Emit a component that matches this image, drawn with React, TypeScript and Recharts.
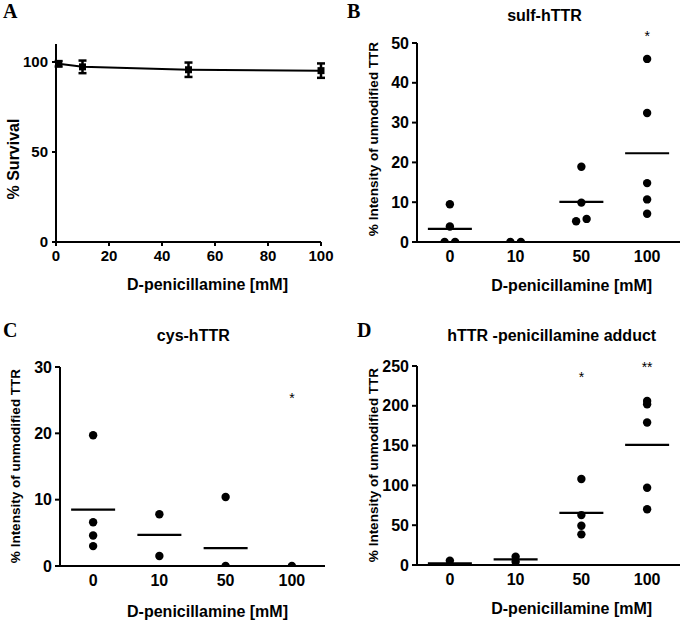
import React from 'react';
import {
  ComposedChart,
  ScatterChart,
  Line,
  Scatter,
  XAxis,
  YAxis,
  ErrorBar,
  Label,
  ReferenceDot,
} from 'recharts';

const FONT = "'Liberation Sans', Arial, Helvetica, sans-serif";
const SERIF = "'Liberation Serif', 'Times New Roman', serif";

// ---------- Panel A: survival ----------
const survivalDose = [1, 10, 50, 100];
const survivalPct = [99, 97.3, 95.7, 95.2];
const survivalErr = [1.5, 3.5, 4, 4];
const survivalXTicks = [0, 20, 40, 60, 80, 100];
const survivalYTicks = [0, 50, 100];

// ---------- Dot plots (B, C, D) ----------
const doseCategories = ['0', '10', '50', '100'];

const sulfValues = [
  [9.5, 3.9, 0, 0],
  [0, 0],
  [18.9, 9.9, 5.2, 5.8],
  [46, 32.4, 14.8, 10.7, 7.1],
];
const sulfMeans = [3.3, 0, 10.1, 22.3];
const sulfStars = [{ cat: 3, y: 52.5, text: '*' }];
const sulfYTicks = [0, 10, 20, 30, 40, 50];

const cysValues = [
  [19.7, 6.6, 4.6, 3.0],
  [7.8, 1.5],
  [10.4, 0],
  [0],
];
const cysMeans = [8.5, 4.7, 2.7, 0];
const cysStars = [{ cat: 3, y: 25.8, text: '*' }];
const cysYTicks = [0, 10, 20, 30];

const adductValues = [
  [5.5, 0.5],
  [10.5, 4.2],
  [108, 62.7, 49.3, 38.5],
  [206, 202, 179, 97, 70],
];
const adductMeans = [2, 7.1, 65.6, 151];
const adductStars = [
  { cat: 2, y: 240.5, text: '*' },
  { cat: 3, y: 253, text: '**' },
];
const adductYTicks = [0, 50, 100, 150, 200, 250];

const survivalData = survivalDose.map((x, i) => ({ x, y: survivalPct[i], err: survivalErr[i] }));

function buildDots(values: number[][], pxPerUnit: number) {
  const out: { x: number; y: number; dx: number }[] = [];
  values.forEach((group, ci) => {
    const used = new Array(group.length).fill(false);
    group.forEach((v, i) => {
      if (used[i]) return;
      const cluster = [i];
      used[i] = true;
      group.forEach((w, j) => {
        if (!used[j] && Math.abs(w - v) * pxPerUnit < 3) {
          cluster.push(j);
          used[j] = true;
        }
      });
      const n = cluster.length;
      cluster.forEach((idx, k) => {
        out.push({ x: ci, y: group[idx], dx: (k - (n - 1) / 2) * 10.5 });
      });
    });
  });
  return out;
}

const axisStyle = { stroke: '#000', strokeWidth: 2 };

const DotShape = (p: any) => (
  <circle cx={p.cx + (p.payload?.dx || 0)} cy={p.cy} r={4.2} fill="#000" />
);
const MeanShape = (p: any) => (
  <line x1={p.cx - 22} x2={p.cx + 22} y1={p.cy} y2={p.cy} stroke="#000" strokeWidth={2.2} />
);
const starShape = (txt: string) => (p: any) => (
  <text x={p.cx} y={p.cy + 8} textAnchor="middle" fontSize={14} fontFamily={FONT} fill="#000">
    {txt}
  </text>
);

const textLabel = (txt: string, x: number, y: number, size: number, rotate = false) => () =>
  (
    <text
      x={x}
      y={y}
      textAnchor="middle"
      dominantBaseline="central"
      fontFamily={FONT}
      fontWeight="bold"
      fontSize={size}
      fill="#000"
      transform={rotate ? `rotate(-90 ${x} ${y})` : undefined}
    >
      {txt}
    </text>
  );

type DotProps = {
  width: number;
  height: number;
  top: number;
  right: number;
  yAxisWidth: number;
  xAxisHeight: number;
  yMax: number;
  yTicks: number[];
  values: number[][];
  means: number[];
  stars: { cat: number; y: number; text: string }[];
  yLabelPos: [number, number];
  xLabelPos: [number, number];
};

function DotPanel(props: DotProps) {
  const { width, height, top, right, yAxisWidth, xAxisHeight, yMax, yTicks, values, means, stars, yLabelPos, xLabelPos } = props;
  const plotH = height - top - xAxisHeight;
  const dots = buildDots(values, plotH / yMax);
  const meanData = means.map((m, i) => ({ x: i, y: m }));
  return (
    <ScatterChart width={width} height={height} margin={{ top, right, left: 0, bottom: 0 }}>
      <XAxis
        type="number"
        dataKey="x"
        domain={[-0.5, 3.5]}
        ticks={[0, 1, 2, 3]}
        tickFormatter={(v: number) => doseCategories[v] ?? ''}
        height={xAxisHeight}
        axisLine={axisStyle}
        tickLine={false}
        tickSize={6}
        tickMargin={3}
        tick={{ fill: '#000', fontSize: 16, fontWeight: 'bold', fontFamily: FONT }}
        allowDataOverflow
      >
        <Label content={textLabel('D-penicillamine [mM]', xLabelPos[0], xLabelPos[1], 16)} />
      </XAxis>
      <YAxis
        type="number"
        dataKey="y"
        domain={[0, yMax]}
        ticks={yTicks}
        width={yAxisWidth}
        axisLine={axisStyle}
        tickLine={axisStyle}
        tickSize={5}
        tickMargin={3}
        tick={{ fill: '#000', fontSize: 16, fontWeight: 'bold', fontFamily: FONT }}
        allowDataOverflow
      >
        <Label content={textLabel('% Intensity of unmodified TTR', yLabelPos[0], yLabelPos[1], 13.5, true)} />
      </YAxis>
      <Scatter data={meanData} dataKey="y" shape={MeanShape} isAnimationActive={false} />
      <Scatter data={dots} dataKey="y" shape={DotShape} isAnimationActive={false} />
      {stars.map((s, i) => (
        <ReferenceDot key={`star-${i}`} x={s.cat} y={s.y} r={3} ifOverflow="visible" shape={starShape(s.text)} />
      ))}
    </ScatterChart>
  );
}

const SquareDot = (p: any) => (
  <rect key={`sq-${p.index}`} x={p.cx - 3.5} y={p.cy - 3.5} width={7} height={7} fill="#000" />
);

function SurvivalPanel() {
  return (
    <ComposedChart width={340} height={300} data={survivalData} margin={{ top: 44, right: 19, left: 0, bottom: 0 }}>
      <XAxis
        type="number"
        dataKey="x"
        domain={[0, 100]}
        ticks={survivalXTicks}
        height={58}
        axisLine={axisStyle}
        tickLine={axisStyle}
        tickSize={4}
        tickMargin={4}
        tick={{ fill: '#000', fontSize: 15, fontWeight: 'bold', fontFamily: FONT }}
      >
        <Label content={textLabel('D-penicillamine [mM]', 207.5, 284, 16)} />
      </XAxis>
      <YAxis
        type="number"
        domain={[0, 110]}
        ticks={survivalYTicks}
        width={56}
        axisLine={axisStyle}
        tickLine={axisStyle}
        tickSize={4}
        tickMargin={4}
        tick={{ fill: '#000', fontSize: 15, fontWeight: 'bold', fontFamily: FONT }}
      >
        <Label content={textLabel('% Survival', 13, 159, 16, true)} />
      </YAxis>
      <Line
        type="linear"
        dataKey="y"
        stroke="#000"
        strokeWidth={2}
        dot={SquareDot}
        activeDot={false}
        isAnimationActive={false}
      >
        <ErrorBar dataKey="err" direction="y" width={4} stroke="#000" strokeWidth={2.5} />
      </Line>
    </ComposedChart>
  );
}

const overlayText = (txt: string, x: number, y: number, opts: any = {}) => (
  <text x={x} y={y} fill="#000" fontFamily={FONT} fontWeight="bold" fontSize={16} textAnchor="middle" dominantBaseline="central" {...opts}>
    {txt}
  </text>
);

export default function App() {
  return (
    <div style={{ position: 'absolute', left: 0, top: 0, width: 685, height: 621, background: '#fff', overflow: 'hidden' }}>
      <div style={{ position: 'absolute', left: 0, top: 0 }}>
        <SurvivalPanel />
      </div>
      <div style={{ position: 'absolute', left: 340, top: 0 }}>
        <DotPanel
          width={345}
          height={300}
          top={43}
          right={5}
          yAxisWidth={77}
          xAxisHeight={58}
          yMax={50}
          yTicks={sulfYTicks}
          values={sulfValues}
          means={sulfMeans}
          stars={sulfStars}
          yLabelPos={[33, 139]}
          xLabelPos={[231.7, 285]}
        />
      </div>
      <div style={{ position: 'absolute', left: 0, top: 300 }}>
        <DotPanel
          width={340}
          height={321}
          top={67}
          right={15}
          yAxisWidth={60}
          xAxisHeight={55}
          yMax={30}
          yTicks={cysYTicks}
          values={cysValues}
          means={cysMeans}
          stars={cysStars}
          yLabelPos={[15, 166]}
          xLabelPos={[207.5, 311.7]}
        />
      </div>
      <div style={{ position: 'absolute', left: 340, top: 300 }}>
        <DotPanel
          width={345}
          height={321}
          top={66}
          right={5}
          yAxisWidth={77}
          xAxisHeight={56}
          yMax={250}
          yTicks={adductYTicks}
          values={adductValues}
          means={adductMeans}
          stars={adductStars}
          yLabelPos={[33, 165]}
          xLabelPos={[231.7, 308]}
        />
      </div>
      <svg width={685} height={621} style={{ position: 'absolute', left: 0, top: 0, pointerEvents: 'none' }}>
        {overlayText('A', 3, 18, { fontFamily: SERIF, fontSize: 20, textAnchor: 'start', dominantBaseline: 'alphabetic' })}
        {overlayText('B', 347, 18, { fontFamily: SERIF, fontSize: 20, textAnchor: 'start', dominantBaseline: 'alphabetic' })}
        {overlayText('C', 3, 337, { fontFamily: SERIF, fontSize: 20, textAnchor: 'start', dominantBaseline: 'alphabetic' })}
        {overlayText('D', 357, 337, { fontFamily: SERIF, fontSize: 20, textAnchor: 'start', dominantBaseline: 'alphabetic' })}
        {overlayText('sulf-hTTR', 544.5, 15)}
        {overlayText('cys-hTTR', 193.3, 335)}
        {overlayText('hTTR -penicillamine adduct', 551.7, 335)}
      </svg>
    </div>
  );
}
